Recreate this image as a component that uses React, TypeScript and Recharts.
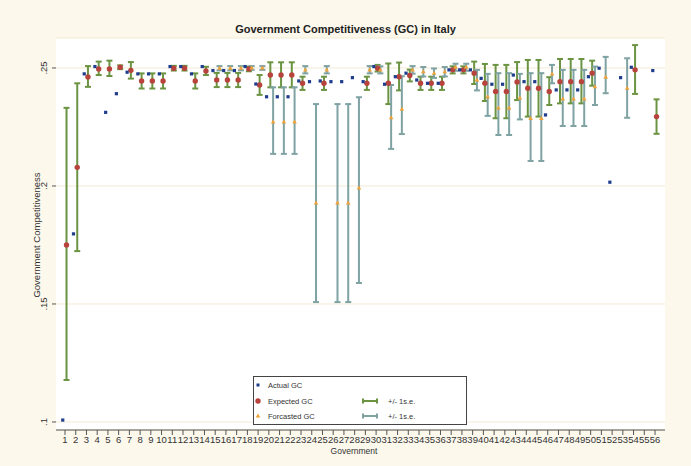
import { ScatterChart, Scatter, XAxis, YAxis, CartesianGrid, ErrorBar, Legend } from "recharts";

const governments = Array.from({ length: 56 }, (_, i) => i + 1);
const yTicks = [0.1, 0.15, 0.2, 0.25];

// Actual GC (blue squares); null = not shown
const actualGC = [
  0.1008, 0.1797, 0.2475, 0.2506, 0.2312, 0.2391, 0.2482, 0.2475, 0.2475, 0.2475,
  0.2506, 0.2506, 0.2475, 0.2506, 0.2489, 0.2489, 0.2489, 0.2506, 0.2432, 0.2378,
  0.2378, 0.2378, 0.2445, 0.2442, 0.2445, 0.2442, 0.2442, 0.2459, 0.2442, 0.2506,
  0.2431, 0.2463, 0.2478, 0.2449, 0.2435, 0.2435, 0.2492, 0.2492, 0.2492, 0.2456,
  0.2431, 0.2431, 0.247, 0.2442, 0.2442, 0.2301, 0.2407, 0.2407, 0.2407, 0.2463,
  0.2499, 0.2016, 0.2459, 0.2503, null, 0.2489,
];

// Expected GC (red dots) with +/- 1 s.e. band (green caps)
const expectedGC = [
  0.175, 0.2079, 0.2462, 0.2496, 0.2496, 0.2503, 0.249, 0.2445, 0.2445, 0.2445,
  0.2499, 0.2499, 0.2445, 0.2487, 0.2449, 0.2449, 0.2449, 0.2496, 0.2428, 0.247,
  0.247, 0.247, 0.2435, null, 0.2435, null, null, null, 0.2435, 0.2499,
  0.2435, 0.2463, 0.2468, 0.2435, 0.2435, 0.2435, 0.2492, 0.2492, 0.2478, 0.2435,
  0.24, 0.24, 0.2441, 0.2414, 0.2414, 0.24, 0.2442, 0.2442, 0.2442, 0.2478,
  null, null, null, 0.2492, null, 0.2294,
];
const expectedLo = [
  0.1178, 0.1724, 0.242, 0.247, 0.2466, 0.2495, 0.2455, 0.2413, 0.2413, 0.2413,
  0.2489, 0.2489, 0.2413, 0.247, 0.2419, 0.2419, 0.2419, 0.2486, 0.2386, 0.2418,
  0.2418, 0.2418, 0.2407, null, 0.2407, null, null, null, 0.2407, 0.2485,
  0.2347, 0.2405, 0.2443, 0.2407, 0.2407, 0.2407, 0.2477, 0.2477, 0.2432, 0.236,
  0.2287, 0.2287, 0.2364, 0.2294, 0.2294, 0.2343, 0.235, 0.235, 0.235, 0.2425,
  null, null, null, 0.239, null, 0.2221,
];
const expectedHi = [
  0.2331, 0.2435, 0.2508, 0.2527, 0.2531, 0.2511, 0.2525, 0.2477, 0.2477, 0.2477,
  0.2509, 0.2509, 0.2477, 0.2505, 0.2479, 0.2479, 0.2479, 0.2506, 0.247, 0.2524,
  0.2524, 0.2524, 0.2463, null, 0.2463, null, null, null, 0.2463, 0.2513,
  0.2519, 0.2523, 0.2493, 0.2463, 0.2463, 0.2463, 0.2507, 0.2507, 0.2527, 0.2517,
  0.2513, 0.2513, 0.2525, 0.2534, 0.2534, 0.2461, 0.2538, 0.2538, 0.2538, 0.2531,
  null, null, null, 0.2597, null, 0.2367,
];

// Forecasted GC (orange triangles) with +/- 1 s.e. band (teal caps)
const forecastGC = [
  null, null, null, null, null, null, null, null, null, null,
  null, null, null, null, 0.2499, 0.2499, 0.2499, 0.25, 0.25, 0.2272,
  0.2272, 0.2272, 0.2492, 0.1928, 0.2492, 0.1928, 0.1928, 0.1992, 0.2492, 0.2492,
  0.229, 0.2326, 0.2492, 0.2484, 0.2478, 0.2484, 0.2503, 0.2503, 0.2449, 0.2377,
  0.2331, 0.2331, 0.2373, 0.2286, 0.2286, 0.2475, 0.2369, 0.2369, 0.2369, 0.2421,
  0.2461, null, 0.2415, null, null, null,
];
const forecastLo = [
  null, null, null, null, null, null, null, null, null, null,
  null, null, null, null, 0.249, 0.249, 0.249, 0.2492, 0.2492, 0.2136,
  0.2136, 0.2136, 0.2477, 0.1508, 0.2477, 0.1508, 0.1508, 0.1589, 0.2477, 0.2477,
  0.2157, 0.222, 0.2476, 0.2464, 0.2458, 0.2464, 0.2488, 0.2488, 0.2405, 0.2297,
  0.2216, 0.2216, 0.2282, 0.2106, 0.2106, 0.2435, 0.2254, 0.2254, 0.2254, 0.2343,
  0.2393, null, 0.2289, null, null, null,
];
const forecastHi = [
  null, null, null, null, null, null, null, null, null, null,
  null, null, null, null, 0.2508, 0.2508, 0.2508, 0.2508, 0.2508, 0.2418,
  0.2418, 0.2418, 0.2508, 0.2347, 0.2508, 0.2347, 0.2347, 0.2376, 0.2508, 0.2507,
  0.2428, 0.2465, 0.2508, 0.2504, 0.2498, 0.2504, 0.2518, 0.2518, 0.2492, 0.2475,
  0.2478, 0.2478, 0.2475, 0.2478, 0.2478, 0.2513, 0.2492, 0.2492, 0.2492, 0.2506,
  0.2547, null, 0.2541, null, null, null,
];

const CREAM = "#fcf8ec";
const BLUE = "#1f3d8c";
const RED = "#b8423c";
const ORANGE = "#eda33a";
const GREEN = "#6b9442";
const TEAL = "#7fa2a3";
const FONT = "'Liberation Sans', Arial, sans-serif";

// stata draws the three series slightly apart around each tick
const actualRows = governments.flatMap((g, i) =>
  actualGC[i] == null ? [] : [{ x: g - 0.21, y: actualGC[i] }]
);

function withBand(values: (number | null)[], lo: (number | null)[], hi: (number | null)[], shift: number) {
  return governments.flatMap((g, i) => {
    const v = values[i];
    if (v == null) return [];
    return [{ x: g + shift, y: v, band: [v - (lo[i] as number), (hi[i] as number) - v] }];
  });
}

const expectedRows = withBand(expectedGC, expectedLo, expectedHi, 0.14);
const forecastRows = withBand(forecastGC, forecastLo, forecastHi, 0.4);

const ActualDot = (p: any) => (
  <rect x={p.cx - 1.6} y={p.cy - 1.6} width={3.2} height={3.2} fill={BLUE} />
);
const ExpectedDot = (p: any) => <circle cx={p.cx} cy={p.cy} r={2.7} fill={RED} />;
const ForecastMark = (p: any) => (
  <path
    d={`M${p.cx},${p.cy - 2.4}L${p.cx + 2.3},${p.cy + 1.6}L${p.cx - 2.3},${p.cy + 1.6}Z`}
    fill={ORANGE}
  />
);

function YTick({ x, y, payload }: any) {
  const label = String(payload.value).replace(/^0/, "");
  const bx = x - 3;
  return (
    <text
      x={bx}
      y={y}
      transform={`rotate(-90, ${bx}, ${y})`}
      textAnchor="middle"
      fontSize={9.5}
      fill="#333"
      fontFamily={FONT}
    >
      {label}
    </text>
  );
}

function capSymbol(x: number, y: number, color: string) {
  return (
    <g stroke={color} strokeWidth={2}>
      <line x1={x} y1={y} x2={x + 14} y2={y} />
      <line x1={x} y1={y - 2.5} x2={x} y2={y + 2.5} />
      <line x1={x + 14} y1={y - 2.5} x2={x + 14} y2={y + 2.5} />
    </g>
  );
}

function LegendBox() {
  const txt = { fontSize: 7.5, fill: "#333", fontFamily: FONT };
  return (
    <svg width={215} height={50}>
      <rect x={0.5} y={0.5} width={213} height={48} fill="#fff" stroke="#444" />
      <rect x={3.5} y={7.5} width={3} height={3} fill={BLUE} />
      <text x={15} y={11.5} {...txt}>Actual GC</text>
      <circle cx={5} cy={25} r={2.7} fill={RED} />
      <text x={15} y={27.5} {...txt}>Expected GC</text>
      {capSymbol(110, 25, GREEN)}
      <text x={135} y={27.5} {...txt}>+/- 1s.e.</text>
      <path d="M5,37.6L7.3,41.6L2.7,41.6Z" fill={ORANGE} />
      <text x={15} y={42.5} {...txt}>Forcasted GC</text>
      {capSymbol(110, 40, TEAL)}
      <text x={135} y={42.5} {...txt}>+/- 1s.e.</text>
    </svg>
  );
}

export default function App() {
  return (
    <div
      style={{
        position: "fixed",
        left: 0,
        top: 0,
        width: 691,
        height: 466,
        background: CREAM,
        fontFamily: FONT,
      }}
    >
      <ScatterChart width={691} height={466} margin={{ top: 38, right: 26, bottom: 6, left: 36 }}>
        <CartesianGrid vertical={false} stroke="#f3ead2" fill="#ffffff" />
        <XAxis
          type="number"
          dataKey="x"
          domain={[0.16, 56.93]}
          allowDataOverflow
          ticks={governments}
          interval={0}
          height={30}
          tickSize={5}
          tickMargin={1}
          axisLine={{ stroke: "#555" }}
          tickLine={{ stroke: "#555" }}
          tick={{ fontSize: 9.5, fill: "#333", fontFamily: FONT }}
        />
        <YAxis
          type="number"
          dataKey="y"
          domain={[0.0966, 0.2627]}
          allowDataOverflow
          ticks={yTicks}
          width={20}
          tickSize={4}
          axisLine={false}
          tickLine={{ stroke: "#555" }}
          tick={<YTick />}
        />
        <Scatter data={expectedRows} shape={ExpectedDot} isAnimationActive={false}>
          <ErrorBar dataKey="band" direction="y" width={3} stroke={GREEN} strokeWidth={2} />
        </Scatter>
        <Scatter data={forecastRows} shape={ForecastMark} isAnimationActive={false}>
          <ErrorBar dataKey="band" direction="y" width={3} stroke={TEAL} strokeWidth={2} />
        </Scatter>
        <Scatter data={actualRows} shape={ActualDot} isAnimationActive={false} />
        <Legend
          layout="vertical"
          align="center"
          verticalAlign="middle"
          content={<LegendBox />}
          wrapperStyle={{ position: "absolute", left: 253, top: 376, width: 215, height: 50 }}
        />
      </ScatterChart>
      <div
        style={{
          position: "absolute",
          left: 0,
          top: 23,
          width: 691,
          textAlign: "center",
          fontSize: 11,
          lineHeight: "13px",
          fontWeight: "bold",
          color: "#222",
        }}
      >
        Government Competitiveness (GC) in Italy
      </div>
      <div
        style={{
          position: "absolute",
          left: -63,
          top: 229,
          width: 200,
          height: 12,
          lineHeight: "12px",
          textAlign: "center",
          fontSize: 9.5,
          color: "#333",
          transform: "rotate(-90deg)",
        }}
      >
        Government Competitiveness
      </div>
      <div
        style={{
          position: "absolute",
          left: 304,
          top: 446,
          width: 100,
          textAlign: "center",
          fontSize: 8.5,
          lineHeight: "10px",
          color: "#333",
        }}
      >
        Government
      </div>
    </div>
  );
}
